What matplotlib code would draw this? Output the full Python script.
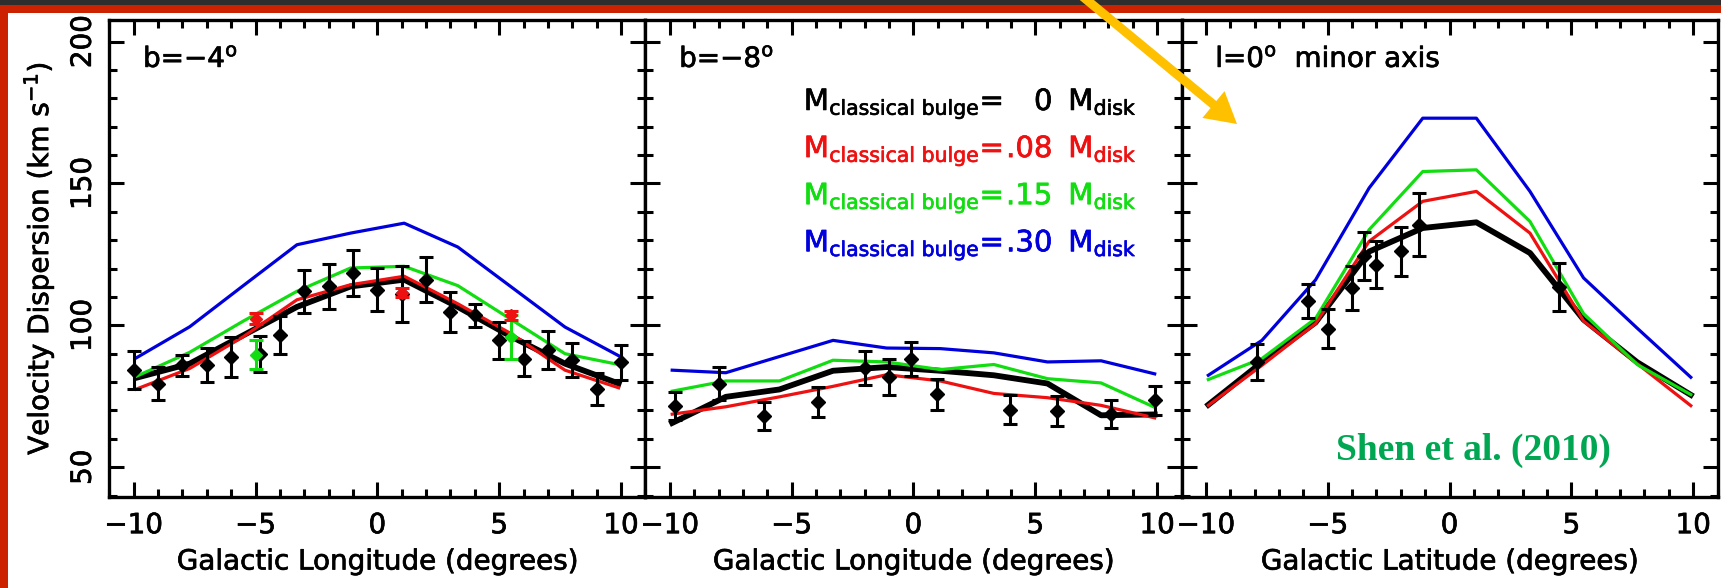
import matplotlib
matplotlib.use('Agg')
import matplotlib.pyplot as plt
import matplotlib.patheffects as pe
from matplotlib.patches import Rectangle
from matplotlib.text import Text
from matplotlib.ticker import MultipleLocator

plt.rcParams['font.family'] = ['DejaVu Sans']
plt.rcParams['mathtext.fontset'] = 'dejavusans'

# model curves are sampled on the same grid in every panel
model_x = [-9.9, -7.7, -5.5, -3.3, -1.1, 1.1, 3.3, 5.5, 7.7, 9.9]

# b = -4 deg strip
b4_model_0 = [81.5, 86.5, 96.5, 106.5, 113.7, 116.1, 106.5, 96.0, 86.5, 79.5]
b4_model_08 = [77.5, 84.8, 96.0, 109.0, 114.3, 117.3, 107.6, 97.0, 84.2, 78.0]
b4_model_15 = [82.0, 90.5, 101.5, 112.0, 120.2, 120.8, 114.0, 102.0, 90.0, 86.2]
b4_model_30 = [88.5, 99.5, 114.0, 128.4, 132.5, 136.0, 127.6, 113.5, 99.4, 89.3]
b4_x = [-10, -9, -8, -7, -6, -4.8, -4, -3, -2, -1, 0, 1, 2, 3, 4, 5, 6, 7, 8, 9, 10]
b4_y = [84.2, 79.5, 85.9, 85.9, 88.9, 90.0, 96.5, 112.0, 113.7, 118.4, 112.6, 111.0,
        116.1, 104.7, 103.5, 94.7, 88.3, 91.2, 87.7, 77.7, 87.0]
b4_err = [6.6, 5.7, 3.7, 6.0, 7.0, 6.3, 6.7, 7.6, 8.0, 8.0, 7.5, 10.0,
          8.0, 7.0, 4.0, 6.5, 6.3, 6.7, 6.0, 5.6, 6.2]
b4_red_x = [-5, 1, 5.5]
b4_red_y = [102.4, 111.5, 103.5]
b4_red_err = [2.0, 1.5, 1.5]
b4_green_x = [-5, 5.5]
b4_green_y = [89.7, 96.0]
b4_green_err = [5.0, 7.7]

# b = -8 deg strip
b8_model_0 = [65.6, 74.8, 77.4, 84.0, 85.3, 84.0, 82.4, 79.5, 68.3, 68.6]
b8_model_08 = [68.7, 71.3, 74.8, 78.5, 82.6, 80.4, 76.0, 74.5, 71.8, 67.4]
b8_model_15 = [76.8, 80.4, 80.4, 87.7, 87.1, 84.4, 86.2, 81.2, 79.7, 71.1]
b8_model_30 = [84.2, 83.3, 89.0, 94.7, 92.0, 91.8, 90.3, 87.1, 87.5, 82.9]
b8_x = [-9.8, -8.0, -6.15, -3.9, -2.0, -1.0, -0.1, 0.95, 3.95, 5.9, 8.1, 9.9]
b8_y = [71.5, 79.5, 68.0, 73.0, 85.1, 81.8, 88.3, 75.7, 70.3, 69.9, 68.7, 73.6]
b8_err = [5.0, 5.7, 5.0, 5.2, 6.0, 6.2, 6.0, 5.4, 5.0, 5.3, 5.0, 5.1]

# l = 0 deg minor axis
l0_model_0 = [72.0, 87.0, 101.0, 126.0, 134.3, 136.3, 125.5, 102.0, 87.0, 75.5]
l0_model_08 = [71.8, 85.9, 100.6, 129.6, 143.7, 147.2, 132.5, 101.5, 86.5, 71.7]
l0_model_15 = [80.9, 88.3, 102.4, 133.7, 154.2, 154.8, 136.6, 104.1, 86.2, 75.6]
l0_model_30 = [82.4, 94.7, 116.0, 148.4, 173.0, 173.0, 147.2, 116.7, 99.0, 81.7]
l0_x = [-7.9, -5.8, -5.0, -4.0, -3.5, -3.0, -2.0, -1.25, 4.5]
l0_y = [87.1, 108.5, 98.8, 113.2, 124.5, 121.4, 126.1, 135.5, 113.5]
l0_err = [6.2, 6.0, 6.9, 7.8, 8.5, 8.4, 8.7, 11.0, 8.4]

bulge_fracs = ['0', '.08', '.15', '.30']
colors = ['black', '#ee1111', '#11dd11', '#0000dd']
panel_titles = ['b=\u22124$^{\\rm o}$', 'b=\u22128$^{\\rm o}$', 'l=0$^{\\rm o}$  minor axis']
xlabels = ['Galactic Longitude (degrees)', 'Galactic Longitude (degrees)',
           'Galactic Latitude (degrees)']

W, H = 1721, 588
fs = 20
fig = plt.figure(figsize=(W / 100, H / 100), dpi=100)

# frame of the slide around the figure
fig.add_artist(Rectangle((0, 1 - 5 / H), 1, 5 / H, transform=fig.transFigure,
                         color='#2e2e2e', lw=0, zorder=-5))
fig.add_artist(Rectangle((0, 1 - 13 / H), 1, 8 / H, transform=fig.transFigure,
                         color='#cc2200', lw=0, zorder=-5))
fig.add_artist(Rectangle((0, 0), 8 / W, 1 - 5 / H, transform=fig.transFigure,
                         color='#cc2200', lw=0, zorder=-5))

left0, pw = 109.3 / W, 536.1 / W
bottom, ph = 1 - 497.3 / H, 477.3 / H
axes = [fig.add_axes([left0 + i * pw, bottom, pw, ph]) for i in range(3)]

panels = [
    (b4_model_0, b4_model_08, b4_model_15, b4_model_30, b4_x, b4_y, b4_err),
    (b8_model_0, b8_model_08, b8_model_15, b8_model_30, b8_x, b8_y, b8_err),
    (l0_model_0, l0_model_08, l0_model_15, l0_model_30, l0_x, l0_y, l0_err),
]

for i, (ax, p) in enumerate(zip(axes, panels)):
    m0, m08, m15, m30, px, py, perr = p
    ax.plot(model_x, m0, color=colors[0], lw=4.2, zorder=2)
    ax.plot(model_x, m08, color=colors[1], lw=2.3, zorder=3)
    ax.plot(model_x, m15, color=colors[2], lw=2.3, zorder=3)
    ax.plot(model_x, m30, color=colors[3], lw=2.3, zorder=3)
    ax.errorbar(px, py, yerr=perr, fmt='D', color='black', ms=7.5, elinewidth=2.2,
                capsize=5, capthick=2.2, zorder=4)

    ax.set_xlim(-11, 11)
    ax.set_ylim(39.4, 207.6)
    ax.xaxis.set_major_locator(MultipleLocator(5))
    ax.xaxis.set_minor_locator(MultipleLocator(1))
    ax.yaxis.set_major_locator(MultipleLocator(50))
    ax.yaxis.set_minor_locator(MultipleLocator(10))
    ax.tick_params(which='both', direction='in', top=True, right=True, width=2.2)
    ax.tick_params(which='major', length=11, labelsize=fs)
    ax.tick_params(which='minor', length=5.5)
    ax.tick_params(axis='x', pad=10)
    for s in ax.spines.values():
        s.set_linewidth(2.4)
    ax.set_xlabel(xlabels[i], fontsize=fs, labelpad=6)
    ax.text(0.063, 0.9015, panel_titles[i], transform=ax.transAxes, fontsize=fs,
            va='baseline')
    if i > 0:
        ax.tick_params(labelleft=False)

# extra points drawn in colour on the b = -4 panel
axes[0].errorbar(b4_green_x, b4_green_y, yerr=b4_green_err, fmt='D', color=colors[2],
                 ms=6, elinewidth=2.2, capsize=5, capthick=2.2, zorder=5)
axes[0].errorbar(b4_red_x, b4_red_y, yerr=b4_red_err, fmt='D', color=colors[1],
                 ms=6, elinewidth=2.2, capsize=5, capthick=2.2, zorder=5)

ax = axes[0]
ax.tick_params(axis='y', labelrotation=90, pad=9)
for lab in ax.get_yticklabels():
    lab.set_va('center')
ax.set_ylabel('Velocity Dispersion (km s$^{-1}$)', fontsize=fs, labelpad=9)

# legend for the bulge mass fractions
for j, (frac, c) in enumerate(zip(bulge_fracs, colors)):
    y = 175.9 - j * 16.6
    axes[1].text(-4.5, y, r'M$_{\rm classical\ bulge}$=', color=c, fontsize=21,
                 va='baseline')
    axes[1].text(5.7, y, frac, color=c, fontsize=21, ha='right', va='baseline')
    axes[1].text(6.35, y, r'M$_{\rm disk}$', color=c, fontsize=21, va='baseline')

# slightly heavier strokes for all axis text
for t in fig.findobj(Text):
    t.set_path_effects([pe.withStroke(linewidth=0.5, foreground=t.get_color())])

fig.text(1473 / W, 1 - 450 / H, 'Shen et al. (2010)', color='#00a651',
         fontsize=27, fontweight='bold', family='Liberation Serif',
         ha='center', va='center')

axes[2].annotate('', xy=(1237, H - 124), xytext=(1082, H + 4),
                 xycoords='figure pixels', textcoords='figure pixels',
                 arrowprops=dict(width=6.5, headwidth=25, headlength=22,
                                 color='#ffc000', lw=0),
                 annotation_clip=False)

fig.savefig('out.png', dpi=100)
